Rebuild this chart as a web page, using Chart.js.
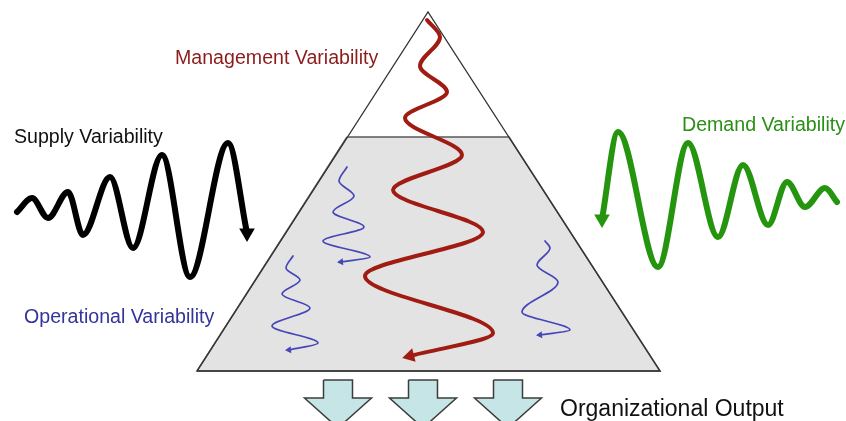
<!DOCTYPE html>
<html>
<head>
<meta charset="utf-8">
<script src="https://cdn.jsdelivr.net/npm/chart.js@4.4.0/dist/chart.umd.min.js"></script>
<style>
  html, body { margin: 0; padding: 0; background: #fff; }
  #wrap { position: relative; width: 846px; height: 421px; overflow: hidden; }
  #wrap canvas { position: absolute; left: 0; top: 0; }
  .lbl {
    position: absolute;
    font-family: 'Liberation Sans', Arial, sans-serif;
    font-size: 19.6px;
    line-height: 19.6px;
    white-space: nowrap;
  }
</style>
</head>
<body>
<div id="wrap">
  <canvas id="diagram" width="846" height="421"></canvas>
  <div class="lbl" style="left:175px;top:48px;color:#8c1c1c">Management Variability</div>
  <div class="lbl" style="left:14px;top:127px;color:#111">Supply Variability</div>
  <div class="lbl" style="left:682px;top:115px;color:#2a8f16">Demand Variability</div>
  <div class="lbl" style="left:24px;top:307px;color:#34349a">Operational Variability</div>
  <div class="lbl" style="left:560px;top:397px;color:#111;font-size:23px;line-height:23px">Organizational Output</div>
</div>
<script>
// Waves: turning points only, the curve comes from monotone interpolation
const supplyX = [17, 32, 48, 68, 83, 110, 133, 162, 190, 228, 247];
const supplyY = [212, 198, 218, 192, 235, 177, 248, 155, 277, 143, 233];

const demandX = [602, 618, 658, 688, 718, 743, 768, 787, 805, 825, 837];
const demandY = [219, 132, 267, 143, 237, 165, 225, 182, 207, 188, 202];

const mgmtX = [427, 440, 420, 447, 405, 462, 393, 483, 365, 493, 410];
const mgmtY = [20, 37, 66, 92, 118, 155, 190, 232, 276, 333, 356];

const opsAX = [347, 339, 354, 333, 364, 323, 370, 341];
const opsAY = [167, 181, 196, 212, 227, 241, 257, 262];
const opsBX = [293, 286, 300, 282, 310, 272, 318, 289];
const opsBY = [256, 268, 280, 294, 308, 326, 343, 350];
const opsCX = [545, 550, 537, 558, 522, 570, 540];
const opsCY = [241, 248, 265, 282, 312, 330, 335];

// Pyramid
const pyramidX = [197, 428, 660, 197];
const pyramidY = [371, 12, 371, 371];
const lowerX = [347, 509, 660, 197, 347];
const lowerY = [137, 137, 371, 371, 137];

// Output arrows
const outputCenters = [338, 423, 508];
const outputDX = [-14.5, 14.5, 14.5, 33.5, 0, -33.5, -14.5, -14.5];
const outputY = [380, 380, 398, 398, 428, 398, 398, 380];

const pts = (xs, ys) => xs.map((x, i) => ({ x: x, y: ys[i] }));
// arrow head drawn as a triangle point on one end only
const headOnly = (n, r, atStart) => Array.from({ length: n }, (_, i) => i === (atStart ? 0 : n - 1) ? r : 0);

function wave(xs, ys, color, width, axis, head, angle, atStart) {
  return {
    data: pts(xs, ys),
    indexAxis: axis,
    borderColor: color,
    borderWidth: width,
    cubicInterpolationMode: 'monotone',
    borderCapStyle: 'round',
    borderJoinStyle: 'round',
    fill: false,
    pointStyle: 'triangle',
    pointRadius: headOnly(xs.length, head, atStart),
    rotation: angle,
    pointBackgroundColor: color,
    pointBorderColor: color,
    pointBorderWidth: 0
  };
}

function shape(xs, ys, fillColor, lineColor, width) {
  return {
    data: pts(xs, ys),
    borderColor: lineColor,
    borderWidth: width,
    backgroundColor: fillColor,
    fill: fillColor ? 'shape' : false,
    tension: 0,
    pointRadius: 0,
    borderJoinStyle: 'miter'
  };
}

const datasets = [
  wave(opsAX, opsAY, '#4646b8', 1.7, 'y', 4, 265),
  wave(opsBX, opsBY, '#4646b8', 1.7, 'y', 4, 265),
  wave(opsCX, opsCY, '#4646b8', 1.7, 'y', 4, 265),
  wave(mgmtX, mgmtY, '#a01c12', 4, 'y', 8, 256),
  wave(supplyX, supplyY, '#000000', 6, 'x', 9, 180),
  wave(demandX, demandY, '#25950f', 6, 'x', 9, 180, true),
  shape(pyramidX, pyramidY, null, '#333333', 1.3),
  shape(lowerX, lowerY, '#e3e3e3', '#5a5a5a', 1.6)
];

outputCenters.forEach(cx => {
  datasets.push(shape(outputDX.map(d => cx + d), outputY, '#c6e5e6', '#3c3c3c', 1.5));
});

new Chart(document.getElementById('diagram'), {
  type: 'line',
  data: { datasets },
  options: {
    responsive: false,
    animation: false,
    events: [],
    layout: { padding: 0, autoPadding: false },
    plugins: { legend: { display: false }, tooltip: { enabled: false } },
    scales: {
      x: { type: 'linear', min: 0, max: 846, display: false },
      y: { type: 'linear', min: 0, max: 421, reverse: true, display: false }
    }
  }
});
</script>
</body>
</html>
